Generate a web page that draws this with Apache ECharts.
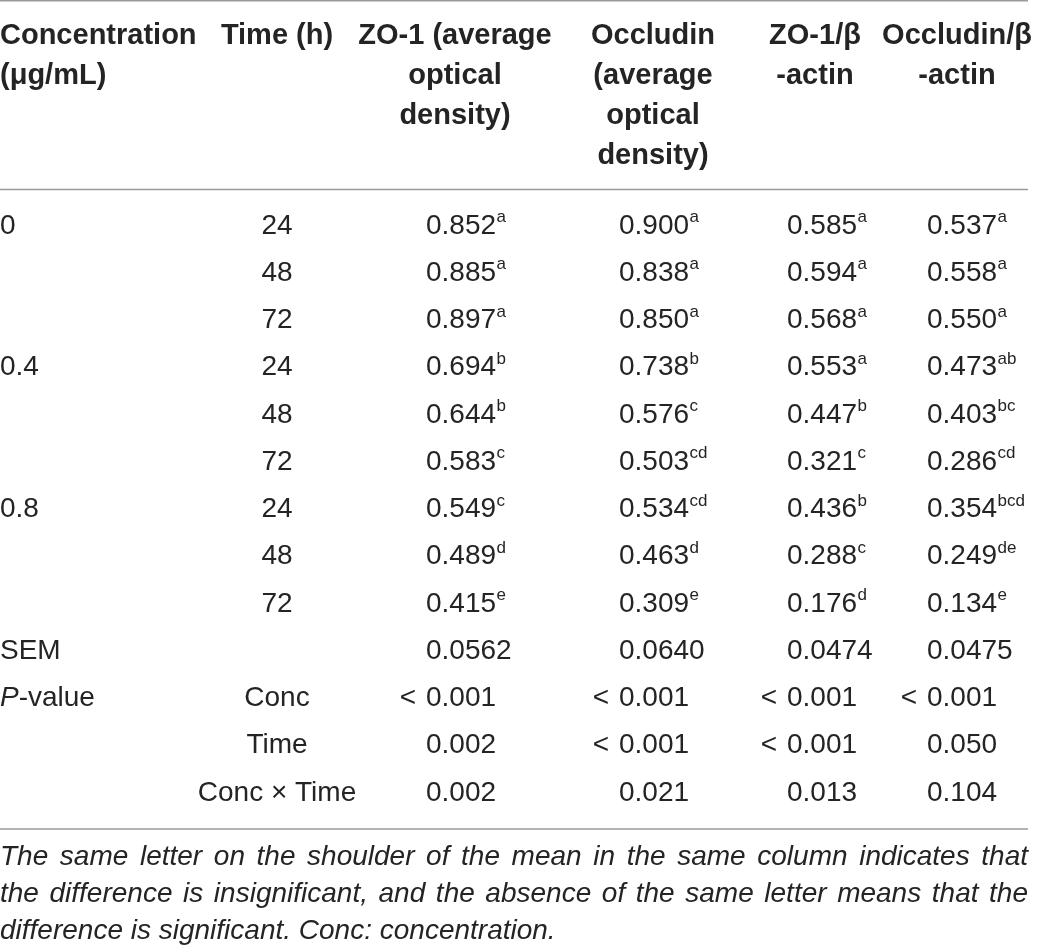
<!DOCTYPE html>
<html><head><meta charset="utf-8">
<script src="https://cdn.jsdelivr.net/npm/echarts@6/dist/echarts.min.js"></script>
<style>html,body{margin:0;padding:0;background:#fff}#c{width:1037px;height:947px}</style>
</head><body><div id="c"></div>
<script>
// ---------- data ----------
const headerConc = ['Concentration', '(μg/mL)'];
const headerTime = ['Time (h)'];
const headerZo1OD = ['ZO-1 (average', 'optical', 'density)'];
const headerOccOD = ['Occludin', '(average', 'optical', 'density)'];
const headerZo1Ratio = ['ZO-1/β', '-actin'];
const headerOccRatio = ['Occludin/β', '-actin'];

const concentrations = ['0', '0.4', '0.8'];
const times = ['24', '48', '72'];

const zo1OD = [0.852, 0.885, 0.897, 0.694, 0.644, 0.583, 0.549, 0.489, 0.415];
const zo1ODSig = ['a', 'a', 'a', 'b', 'b', 'c', 'c', 'd', 'e'];
const occOD = [0.900, 0.838, 0.850, 0.738, 0.576, 0.503, 0.534, 0.463, 0.309];
const occODSig = ['a', 'a', 'a', 'b', 'c', 'cd', 'cd', 'd', 'e'];
const zo1Ratio = [0.585, 0.594, 0.568, 0.553, 0.447, 0.321, 0.436, 0.288, 0.176];
const zo1RatioSig = ['a', 'a', 'a', 'a', 'b', 'c', 'b', 'c', 'd'];
const occRatio = [0.537, 0.558, 0.550, 0.473, 0.403, 0.286, 0.354, 0.249, 0.134];
const occRatioSig = ['a', 'a', 'a', 'ab', 'bc', 'cd', 'bcd', 'de', 'e'];

const semLabel = 'SEM';
const semValues = [0.0562, 0.0640, 0.0474, 0.0475];
const pEffects = ['Conc', 'Time', 'Conc × Time'];
const pConc = ['< 0.001', '< 0.001', '< 0.001', '< 0.001'];
const pTime = ['0.002', '< 0.001', '< 0.001', '0.050'];
const pInteraction = ['0.002', '0.021', '0.013', '0.104'];

const footnoteLines = [
  'The same letter on the shoulder of the mean in the same column indicates that',
  'the difference is insignificant, and the absence of the same letter means that the',
  'difference is significant. Conc: concentration.'
];

// ---------- layout / style ----------
const W = 1037, H = 947;
const FAM = '"Liberation Sans", Arial, sans-serif';
const INK = '#262324';
const BODY = '28px ' + FAM;
const SUP = '17px ' + FAM;
const HEAD = 'bold 29px ' + FAM;
const FOOT = 'italic 28px ' + FAM;
const ITAL = 'italic 28px ' + FAM;
const RULE = '#9a9a9a';
const TABLE_RIGHT = 1028;
const COL_CONC = 0, COL_TIME = 277;
const COL_VALS = [426, 619, 787, 927];
const HEAD_CENTERS = [277, 455, 653, 815, 957];
const ROW_H = 47.25, FIRST_ROW = 226;
const LT_GAP = 10;

const mctx = document.createElement('canvas').getContext('2d');
function tw(t, f) { mctx.font = f; return mctx.measureText(t).width; }

// ---------- build cells ----------
const valueCols = [[zo1OD, zo1ODSig], [occOD, occODSig], [zo1Ratio, zo1RatioSig], [occRatio, occRatioSig]];
const rowNames = [];
const cells = [];
for (let i = 0; i < 9; i++) {
  const r = i;
  rowNames.push('r' + r);
  if (i % 3 === 0) cells.push({ row: r, kind: 'left', x: COL_CONC, text: concentrations[i / 3] });
  cells.push({ row: r, kind: 'center', x: COL_TIME, text: times[i % 3] });
  valueCols.forEach((vc, c) => {
    cells.push({ row: r, kind: 'value', x: COL_VALS[c], text: vc[0][i].toFixed(3), sup: vc[1][i] });
  });
}
rowNames.push('sem');
cells.push({ row: 9, kind: 'left', x: COL_CONC, text: semLabel });
semValues.forEach((v, c) => cells.push({ row: 9, kind: 'value', x: COL_VALS[c], text: v.toFixed(4) }));
const pRows = [pConc, pTime, pInteraction];
pRows.forEach((arr, k) => {
  const r = 10 + k;
  rowNames.push('p' + k);
  if (k === 0) cells.push({ row: r, kind: 'pvalue', x: COL_CONC, text: '-value' });
  cells.push({ row: r, kind: 'center', x: COL_TIME, text: pEffects[k] });
  arr.forEach((s, c) => cells.push({ row: r, kind: 'value', x: COL_VALS[c], text: s }));
});

function txt(text, x, y, font, align) {
  return {
    type: 'text',
    style: { text: text, x: x, y: y, font: font, fill: INK, align: align, textAlign: align,
             verticalAlign: 'middle', textVerticalAlign: 'middle' }
  };
}

function renderItem(params, api) {
  const cell = cells[params.dataIndex];
  const y = api.coord([0, api.value(1)])[1];
  const children = [];
  if (cell.kind === 'left') {
    children.push(txt(cell.text, cell.x, y, BODY, 'left'));
  } else if (cell.kind === 'center') {
    children.push(txt(cell.text, cell.x, y, BODY, 'center'));
  } else if (cell.kind === 'pvalue') {
    const pw = tw('P', ITAL);
    children.push(txt('P', cell.x, y, ITAL, 'left'));
    children.push(txt(cell.text, cell.x + pw, y, BODY, 'left'));
  } else {
    let t = cell.text;
    if (t.indexOf('< ') === 0) {
      children.push(txt('<', cell.x - LT_GAP, y, BODY, 'right'));
      t = t.slice(2);
    }
    children.push(txt(t, cell.x, y, BODY, 'left'));
    if (cell.sup) {
      children.push(txt(cell.sup, cell.x + tw(t, BODY) + 0.5, y - 8.5, SUP, 'left'));
    }
  }
  return { type: 'group', children: children };
}

// ---------- graphic: header, rules, footnote ----------
const graphics = [];
function hline(y) {
  graphics.push({ type: 'line', shape: { x1: 0, y1: y, x2: TABLE_RIGHT, y2: y },
                  style: { stroke: RULE, lineWidth: 1.6 } });
}
hline(0.8); hline(189.5); hline(829);

function headText(text, x, y, align) {
  graphics.push({ type: 'text', style: { text: text, x: x, y: y, font: HEAD, fill: INK,
    align: align, textAlign: align, verticalAlign: 'middle', textVerticalAlign: 'middle' } });
}
headerConc.forEach((t, i) => headText(t, 0, 36 + 40 * i, 'left'));
[headerTime, headerZo1OD, headerOccOD, headerZo1Ratio, headerOccRatio].forEach((lines, c) => {
  lines.forEach((t, i) => headText(t, HEAD_CENTERS[c], 36 + 40 * i, 'center'));
});

const footY = [857, 894, 931];
footnoteLines.forEach((line, li) => {
  const words = line.split(' ');
  const justify = li < footnoteLines.length - 1;
  const widths = words.map(w => tw(w, FOOT));
  const total = widths.reduce((a, b) => a + b, 0);
  const gap = justify ? (TABLE_RIGHT - total) / (words.length - 1) : tw(' ', FOOT);
  let x = 0;
  words.forEach((w, k) => {
    graphics.push({ type: 'text', style: { text: w, x: x, y: footY[li], font: FOOT, fill: INK,
      align: 'left', textAlign: 'left', verticalAlign: 'middle', textVerticalAlign: 'middle' } });
    x += widths[k] + gap;
  });
});

// ---------- chart ----------
const chart = echarts.init(document.getElementById('c'), null, { renderer: 'canvas' });
const gridTop = FIRST_ROW - ROW_H / 2;
const gridBottom = H - gridTop - ROW_H * rowNames.length;
chart.setOption({
  animation: false,
  backgroundColor: '#ffffff',
  grid: { left: 0, right: 0, top: gridTop, bottom: gridBottom },
  xAxis: { type: 'value', min: 0, max: W, show: false },
  yAxis: { type: 'category', data: rowNames, inverse: true, show: false },
  series: [{
    type: 'custom',
    renderItem: renderItem,
    data: cells.map(c => [c.x, c.row]),
    silent: true
  }],
  graphic: graphics
});
</script></body></html>
